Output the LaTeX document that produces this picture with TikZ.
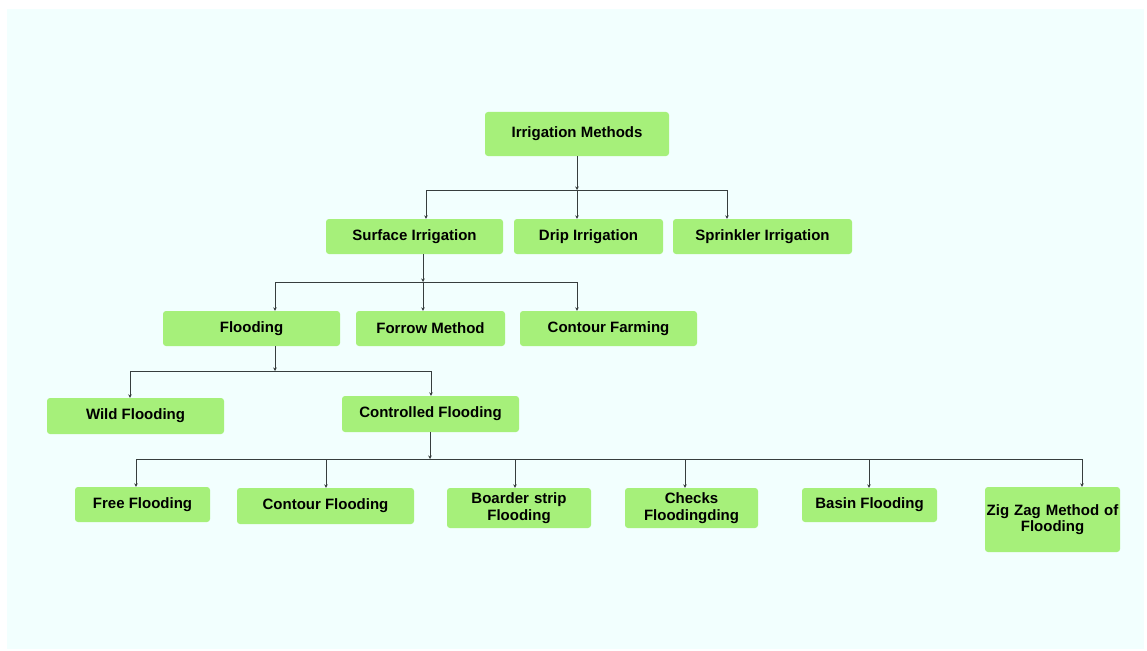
\documentclass[tikz,border=0pt]{standalone}
\usepackage{fontspec}
\setmainfont{Liberation Sans}
\usetikzlibrary{arrows.meta}
\definecolor{boxgreen}{RGB}{166,240,122}
\definecolor{panelcyan}{RGB}{242,255,254}
\definecolor{linegray}{RGB}{55,62,62}
\tikzset{
    common/.style={fill=boxgreen, rounded corners=3pt, inner sep=0pt, align=center,
        font=\bfseries\fontsize{15}{16.5}\selectfont},
    method/.style={common, minimum width=#1, minimum height=35pt},
    twoline/.style={common, text width=#1},
    link/.style={draw=linegray, line width=0.8pt},
    drop/.style={link, -{Stealth[length=3.5pt,width=3.5pt]}}
}
\begin{document}
\begin{tikzpicture}[x=1pt, y=-1pt]
    \useasboundingbox (0,0) rectangle (1147,650);
    \fill[panelcyan] (7,9) rectangle (1144,649);

    % level 0 and 1
    \node[method=184pt, minimum height=44pt] (top) at (577,134) {Irrigation Methods};
    \node[method=177pt] (sur) at (414.5,236.5) {Surface Irrigation};
    \node[method=149pt] (drip) at (588.5,236.5) {Drip Irrigation};
    \node[method=179pt] (spr) at (762.5,236.5) {Sprinkler Irrigation};

    % level 2
    \node[method=177pt] (fld) at (251.5,328.5) {Flooding};
    \node[method=149pt] (frw) at (430.5,328.5) {Forrow Method};
    \node[method=177pt] (cfa) at (608.5,328.5) {Contour Farming};

    % level 3
    \node[method=177pt, minimum height=36pt] (wild) at (135.5,416) {Wild Flooding};
    \node[method=177pt, minimum height=36pt] (ctl) at (430.5,414) {Controlled Flooding};

    % level 4
    \node[method=135pt] (free) at (142.5,504.5) {Free Flooding};
    \node[method=177pt, minimum height=36pt] (cfl) at (325.5,506) {Contour Flooding};
    \node[twoline=144pt, minimum height=40pt] (bsf) at (519,508) {Boarder strip\\Flooding};
    \node[twoline=133pt, minimum height=40pt] (chk) at (691.5,508) {Checks\\Floodingding};
    \node[method=135pt, minimum height=34pt] (bas) at (869.5,505) {Basin Flooding};
    \node[twoline=135pt, minimum height=65pt] (zig) at (1052.5,519.5) {Zig Zag Method of\\Flooding};

    % buses
    \coordinate (j1a) at (426,190);
    \coordinate (j1b) at (577,190);
    \coordinate (j1c) at (727,190);
    \draw[drop] (top.south) -- (j1b);
    \draw[link] (j1a) -- (j1c);
    \foreach \c/\n in {j1a/sur, j1b/drip, j1c/spr}
        \draw[drop] (\c) -- (\c |- \n.north);

    \coordinate (j2a) at (275,282);
    \coordinate (j2b) at (423,282);
    \coordinate (j2c) at (577,282);
    \draw[drop] (j2b |- sur.south) -- (j2b);
    \draw[link] (j2a) -- (j2c);
    \foreach \c/\n in {j2a/fld, j2b/frw, j2c/cfa}
        \draw[drop] (\c) -- (\c |- \n.north);

    \coordinate (j3a) at (130,371);
    \coordinate (j3p) at (275,371);
    \coordinate (j3b) at (431,371);
    \draw[drop] (j3p |- fld.south) -- (j3p);
    \draw[link] (j3a) -- (j3b);
    \foreach \c/\n in {j3a/wild, j3b/ctl}
        \draw[drop] (\c) -- (\c |- \n.north);

    \coordinate (j4p) at (430,459);
    \coordinate (j4a) at (136,459);
    \coordinate (j4b) at (326,459);
    \coordinate (j4c) at (515,459);
    \coordinate (j4d) at (685,459);
    \coordinate (j4e) at (869,459);
    \coordinate (j4f) at (1082,459);
    \draw[drop] (j4p |- ctl.south) -- (j4p);
    \draw[link] (j4a) -- (j4f);
    \foreach \c/\n in {j4a/free, j4b/cfl, j4c/bsf, j4d/chk, j4e/bas, j4f/zig}
        \draw[drop] (\c) -- (\c |- \n.north);
\end{tikzpicture}
\end{document}
